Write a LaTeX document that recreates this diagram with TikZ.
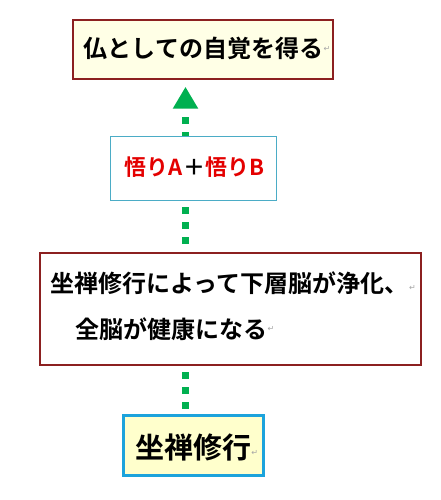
\documentclass[tikz,border=0pt]{standalone}
\usepackage{fontspec}
\usetikzlibrary{arrows.meta}
\newfontfamily\jp{Noto Sans CJK JP}[UprightFont=* Bold]
\newfontfamily\symf{DejaVu Sans}
\definecolor{darkred}{RGB}{140,32,32}
\definecolor{teal2}{RGB}{75,172,198}
\definecolor{cyanb}{RGB}{28,163,220}
\definecolor{cream}{RGB}{255,255,230}
\definecolor{lightyel}{RGB}{255,255,204}
\definecolor{arrgreen}{RGB}{0,176,80}
\definecolor{txtred}{RGB}{228,0,0}
\newcommand{\retmark}{{\symf\fontsize{8}{8}\selectfont\color{gray!70}↵}}
\begin{document}
\begin{tikzpicture}[x=1pt,y=-1pt,
  boxstyle/.style={draw, rectangle, inner sep=0pt},
  jptext/.style={font=\jp, inner sep=0pt, anchor=center},
  flow/.style={draw=arrgreen, line width=7pt, dash pattern=on 7pt off 8pt, dash phase=10pt,
    -{Triangle[width=24pt,length=22pt,fill=arrgreen,color=arrgreen]}, shorten >=7pt},
  retnode/.style={inner sep=0pt, anchor=west}
]
\useasboundingbox[fill=white] (0,0) rectangle (441,500);
% boxes
\node[boxstyle, draw=darkred, line width=1.5pt, fill=cream, minimum width=260pt, minimum height=59pt] (top) at (203,49.5) {};
\node[boxstyle, draw=cyanb, line width=3pt, fill=lightyel, minimum width=140pt, minimum height=60pt] (bot) at (193,445) {};
% connector (behind middle boxes)
\draw[flow] (bot.north -| 185.5,0) -- (top.south -| 185.5,0);
\node[boxstyle, draw=teal2, line width=1pt, fill=white, minimum width=166pt, minimum height=64pt] (mid) at (193,168) {};
\node[boxstyle, draw=darkred, line width=1.5pt, fill=white, minimum width=381pt, minimum height=112pt] (big) at (230.5,309) {};
% texts
\node[jptext, font=\jp\fontsize{24}{24}\selectfont] (toptxt) at (203.5,48.5) {仏としての自覚を得る};
\node[retnode] (topret) at (toptxt.east) {\retmark};
\node[jptext, font=\jp\fontsize{22}{22}\selectfont] (midtxt) at (194.5,167.5) {\textcolor{txtred}{悟りA}＋\textcolor{txtred}{悟りB}};
\node[jptext, anchor=west, font=\jp\fontsize{24}{24}\selectfont] (bigtxta) at (50,283) {坐禅修行によって下層脳が浄化、};
\node[retnode] (bigreta) at (409,288) {\retmark};
\node[jptext, anchor=west, font=\jp\fontsize{24}{24}\selectfont] (bigtxtb) at (75,329) {全脳が健康になる};
\node[retnode] (bigretb) at (bigtxtb.east) {\retmark};
\node[jptext, font=\jp\fontsize{29}{29}\selectfont] (bottxt) at (193,447.5) {坐禅修行};
\node[retnode] (botret) at ([yshift=-5pt]bottxt.east) {\retmark};
\end{tikzpicture}
\end{document}
